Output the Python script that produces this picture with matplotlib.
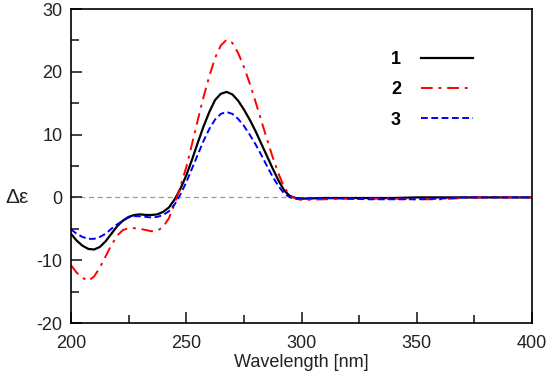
import matplotlib.pyplot as plt
from matplotlib.ticker import MultipleLocator

plt.rcParams['font.family'] = ['Liberation Sans', 'DejaVu Sans']
plt.rcParams['axes.unicode_minus'] = False

# wavelength grid (nm)
wl = [200, 202.5, 205, 207.5, 210, 212.5, 215, 217.5, 220, 222.5, 225, 227.5, 230,
      232.5, 235, 237.5, 240, 242.5, 245, 247.5, 250, 252.5, 255, 257.5, 260, 262.5,
      265, 267.5, 270, 272.5, 275, 277.5, 280, 282.5, 285, 287.5, 290, 292.5, 295,
      297.5, 300, 310, 320, 330, 340, 350, 360, 370, 380, 390, 400]

cd_1 = [-5.8, -6.9, -7.7, -8.2, -8.3, -7.9, -7.0, -5.8, -4.6, -3.7, -3.1, -2.8, -2.7,
        -2.8, -2.8, -2.7, -2.3, -1.6, -0.3, 1.4, 3.5, 6.0, 8.7, 11.3, 13.6, 15.5,
        16.5, 16.8, 16.4, 15.4, 14.0, 12.4, 10.6, 8.6, 6.6, 4.6, 2.7, 1.1, 0.2,
        -0.1, -0.2, -0.1, -0.1, -0.1, -0.1, 0.0, 0.0, 0.0, 0.0, 0.0, 0.0]

cd_2 = [-10.8, -12.0, -12.8, -13.3, -12.6, -11.2, -9.4, -7.6, -6.1, -5.2, -4.9, -4.9, -5.0,
        -5.2, -5.4, -5.3, -4.7, -3.3, -1.0, 1.8, 4.8, 8.5, 12.3, 16.0, 19.3, 22.2,
        24.2, 25.1, 24.6, 23.0, 20.8, 18.2, 15.3, 12.3, 9.3, 6.4, 3.8, 1.6, 0.3,
        -0.2, -0.4, -0.3, -0.2, -0.2, -0.2, -0.3, -0.3, -0.1, 0.0, 0.0, 0.0]

cd_3 = [-5.1, -5.8, -6.3, -6.6, -6.6, -6.3, -5.8, -5.0, -4.3, -3.7, -3.2, -3.0, -3.0,
        -3.1, -3.2, -3.1, -2.8, -2.2, -1.1, 0.5, 2.4, 4.6, 6.8, 9.0, 10.9, 12.4,
        13.3, 13.6, 13.3, 12.5, 11.4, 10.0, 8.5, 6.8, 5.0, 3.3, 1.8, 0.6, 0.0,
        -0.2, -0.2, -0.1, -0.2, -0.3, -0.3, -0.3, -0.2, 0.0, 0.0, 0.0, 0.0]

labels = ['1', '2', '3']

fig = plt.figure(figsize=(5.5, 3.79), dpi=100)
ax = fig.add_axes([71 / 550, 1 - 323 / 379, 461 / 550, 314 / 379])

ax.axhline(0, color='#999999', lw=0.9, ls=(0, (4, 3)), zorder=1)
ax.plot(wl, cd_1, color='black', lw=1.6, label=labels[0])
ax.plot(wl, cd_2, color='red', lw=1.4, ls=(0, (6, 3, 1.5, 3)), label=labels[1])
ax.plot(wl, cd_3, color='blue', lw=1.4, ls=(0, (3.5, 1.8)), label=labels[2])

ax.set_xlim(200, 400)
ax.set_ylim(-20, 30)
ax.xaxis.set_major_locator(MultipleLocator(50))
ax.xaxis.set_minor_locator(MultipleLocator(25))
ax.yaxis.set_major_locator(MultipleLocator(10))
ax.yaxis.set_minor_locator(MultipleLocator(5))
ax.tick_params(which='both', direction='in', top=False, right=False,
               labelsize=13, width=1.2, colors='#222222')
ax.tick_params(axis='x', which='major', length=8, pad=9)
ax.tick_params(axis='y', which='major', length=8, pad=6)
ax.tick_params(which='minor', length=6)
for s in ax.spines.values():
    s.set_linewidth(1.2)

ax.set_xlabel('Wavelength [nm]', fontsize=13, color='#222222', labelpad=1)
ax.set_ylabel('Δε', fontsize=15, rotation=0, va='center', ha='center', color='#222222')
ax.yaxis.set_label_coords(-0.118, 0.40)

leg = ax.legend(loc='upper right', bbox_to_anchor=(0.908, 0.917), frameon=False,
                markerfirst=False, handlelength=2.9, handletextpad=1.1,
                labelspacing=0.73, prop={'size': 13, 'weight': 'bold'})

fig.savefig('out.png', dpi=100)
